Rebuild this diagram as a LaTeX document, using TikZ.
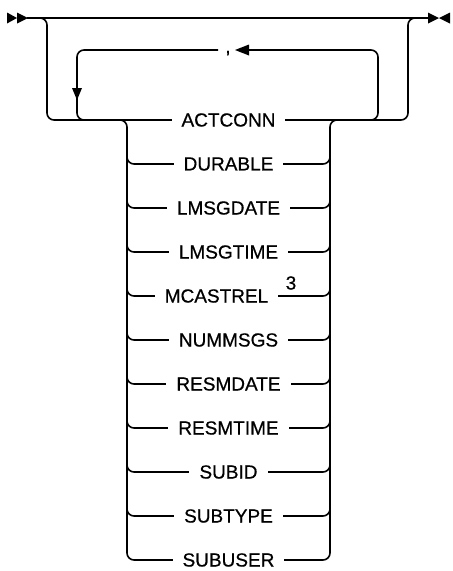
\documentclass[tikz,border=0pt]{standalone}
\usepackage{fontspec}
\setmainfont{Liberation Sans}[FakeBold=0.6]
\begin{document}
\begin{tikzpicture}[x=1pt,y=-1pt, line width=1.6pt,
  rc/.style={rounded corners=7pt},
  kwfont/.style={font=\fontsize{19}{22}\selectfont},
  kw/.style={kwfont, fill=white, inner xsep=10pt, inner ysep=1pt},
  tri/.style={fill=black, draw=none}]
\useasboundingbox (0,0) rectangle (453,571);
% start / end markers
\coordinate (start) at (27,18);
\coordinate (end) at (428,18);
\fill[tri] (7,12.5) -- (17,18) -- (7,23.5) -- cycle;
\fill[tri] (17,12.5) -- (28,18) -- (17,23.5) -- cycle;
\fill[tri] (428,12.5) -- (439,18) -- (428,23.5) -- cycle;
\fill[tri] (450,12.5) -- (439,18) -- (450,23.5) -- cycle;
\draw (start) -- (end);
% outer bypass
\draw[rc] (35,18) -| (47,120) -- (62,120);
\draw[rc] (393,120) -| (408,18) -- (420,18);
% main row
\draw (55,120) -- (400,120);
% repeat loop
\node[kwfont, inner sep=0pt, anchor=base] (comma) at (228,53) {,};
\coordinate (ltip) at (235,50);
\fill[tri] (ltip) -- (249,44.5) -- (249,55.5) -- cycle;
\draw[rc] (248,50) -| (378,120) -- (362,120);
\draw[rc] (218,50) -| (77,120) -- (92,120);
\fill[tri] (72,88) -- (82,88) -- (77,100) -- cycle;
% choice stack
\draw[rc] (112,120) -| (127,560) -- (145,560);
\draw[rc] (312,560) -| (330,120) -- (345,120);
\foreach \y in {164,208,252,296,340,384,428,472,516} {
  \draw[rc] (127,\y-15) |- (145,\y);
  \draw[rc] (312,\y) -| (330,\y-15);
}
\foreach \y in {164,208,252,296,340,384,428,472,516,560} {
  \draw (140,\y) -- (318,\y);
}
\node[kw] (actconn) at (228.5,120) {ACTCONN};
\node[kw] (durable) at (228.5,164) {DURABLE};
\node[kw] (lmsgdate) at (228.5,208) {LMSGDATE};
\node[kw] (lmsgtime) at (228.5,252) {LMSGTIME};
\node[kw] (mcastrel) at (216.5,296) {MCASTREL};
\node[kwfont, fill=white, inner sep=1pt] (note3) at (291,283) {3};
\node[kw] (nummsgs) at (228.5,340) {NUMMSGS};
\node[kw] (resmdate) at (228.5,384) {RESMDATE};
\node[kw] (resmtime) at (228.5,428) {RESMTIME};
\node[kw] (subid) at (228.5,472) {SUBID};
\node[kw] (subtype) at (228.5,516) {SUBTYPE};
\node[kw] (subuser) at (228.5,560) {SUBUSER};
\end{tikzpicture}
\end{document}
